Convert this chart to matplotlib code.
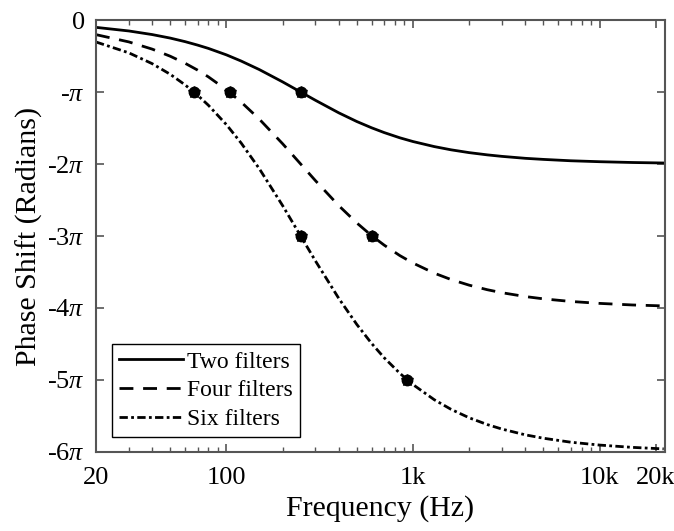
import matplotlib
matplotlib.use("Agg")
import matplotlib.pyplot as plt
import numpy as np

# frequencies read along the x axis (Hz)
freq = [20, 30, 40, 50, 60, 70, 80, 100, 120, 150, 200, 250, 300, 400, 500,
        600, 700, 850, 1000, 1300, 1600, 2000, 2500, 3000, 4000, 5000, 7000,
        10000, 15000, 22050]

# phase, in multiples of pi
two_filters = [-0.102, -0.152, -0.202, -0.251, -0.300, -0.348, -0.394, -0.484,
               -0.570, -0.688, -0.859, -1.000, -1.115, -1.289, -1.410, -1.497,
               -1.563, -1.636, -1.688, -1.758, -1.803, -1.842, -1.873, -1.894,
               -1.921, -1.936, -1.955, -1.968, -1.979, -1.986]
four_filters = [-0.203, -0.304, -0.404, -0.503, -0.600, -0.695, -0.789, -0.969,
                -1.140, -1.376, -1.718, -2.000, -2.231, -2.578, -2.819, -2.995,
                -3.126, -3.272, -3.376, -3.516, -3.605, -3.683, -3.746, -3.788,
                -3.841, -3.873, -3.909, -3.936, -3.958, -3.971]
six_filters = [-0.305, -0.456, -0.606, -0.754, -0.900, -1.043, -1.183, -1.453,
               -1.709, -2.064, -2.577, -3.000, -3.346, -3.866, -4.229, -4.492,
               -4.690, -4.907, -5.064, -5.274, -5.408, -5.525, -5.619, -5.682,
               -5.762, -5.809, -5.864, -5.904, -5.936, -5.957]

# notch markers (Hz, multiples of pi)
two_marks_f = [250]
two_marks_p = [-1]
four_marks_f = [104, 604]
four_marks_p = [-1, -3]
six_marks_f = [67, 250, 933]
six_marks_p = [-1, -3, -5]

xtick_vals = [20, 100, 1000, 10000, 20000]
xtick_text = ["20", "100", "1k", "10k", "20k"]
ytick_vals = [0, -1, -2, -3, -4, -5, -6]
ytick_text = ["0", r"-$\pi$", r"-2$\pi$", r"-3$\pi$", r"-4$\pi$", r"-5$\pi$",
              r"-6$\pi$"]

plt.rcParams["font.family"] = "Liberation Serif"
plt.rcParams["mathtext.fontset"] = "custom"
plt.rcParams["mathtext.rm"] = "Liberation Serif"
plt.rcParams["mathtext.it"] = "Liberation Serif:italic"

fig = plt.figure(figsize=(6.74, 5.31), dpi=100)
ax = fig.add_axes([0.1424, 0.1488, 0.8442, 0.8135])

pi = np.pi
ax.plot(freq, np.array(two_filters) * pi, color="black", lw=2.0,
        ls="-", label="Two filters")
ax.plot(freq, np.array(four_filters) * pi, color="black", lw=2.0,
        ls=(0, (5, 3.5)), label="Four filters")
ax.plot(freq, np.array(six_filters) * pi, color="black", lw=2.0,
        ls=(0, (3, 1.2, 1, 1.2)), label="Six filters")

for mf, mp in [(two_marks_f, two_marks_p), (four_marks_f, four_marks_p),
               (six_marks_f, six_marks_p)]:
    ax.plot(mf, np.array(mp) * pi, ls="none", marker="o", ms=7.5,
            color="black")
    ax.plot(mf, np.array(mp) * pi, ls="none", marker="*", ms=9,
            color="black")

ax.set_xscale("log")
ax.set_xlim(20, 22400)
ax.set_ylim(-6 * pi, 0)

ax.set_xticks(xtick_vals)
ax.set_xticklabels(xtick_text)
ax.set_yticks(np.array(ytick_vals) * pi)
ax.set_yticklabels(ytick_text)
ax.xaxis.set_minor_locator(matplotlib.ticker.LogLocator(
    base=10, subs=np.arange(2, 10)))
ax.xaxis.set_minor_formatter(matplotlib.ticker.NullFormatter())

ax.tick_params(which="both", direction="in", top=True, right=True,
               labelsize=19, color="#555555")
ax.tick_params(axis="x", pad=11)
ax.tick_params(axis="y", pad=8)
ax.tick_params(which="major", length=6, width=1.2)
ax.tick_params(which="minor", length=3.5, width=1.0)
for sp in ax.spines.values():
    sp.set_color("#555555")
    sp.set_linewidth(1.5)

ax.set_xlabel("Frequency (Hz)", fontsize=21.5, labelpad=4)
ax.set_ylabel("Phase Shift (Radians)", fontsize=21.5, labelpad=3)

leg = ax.legend(loc="lower left", bbox_to_anchor=(0.028, 0.035),
                fontsize=17, handlelength=2.7, handletextpad=0.2,
                labelspacing=0.3, borderpad=0.3, fancybox=False,
                framealpha=1, edgecolor="black", borderaxespad=0)
leg.get_frame().set_linewidth(1.0)

fig.savefig("out.png", dpi=100)
